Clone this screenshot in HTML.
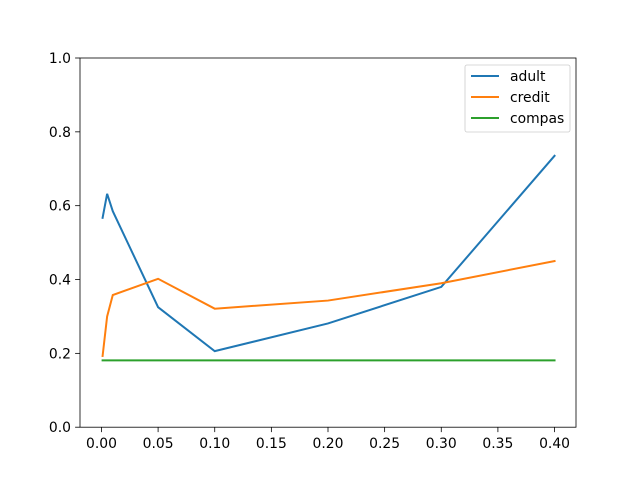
<!DOCTYPE html>
<html><head><meta charset="utf-8"><style>
body{margin:0;background:#fff;}
svg{display:block;font-family:"DejaVu Sans","Liberation Sans",sans-serif;}
</style></head><body>
<svg id="chart" width="640" height="480">
<rect width="640" height="480" fill="#fff"/>
<g id="plot"></g>
</svg>
<script>
const xValues=[0.001,0.005,0.01,0.05,0.1,0.2,0.3,0.4];
const adult=[0.567,0.632,0.585,0.325,0.206,0.281,0.38,0.735];
const credit=[0.193,0.3,0.358,0.402,0.321,0.343,0.39,0.45];
const compas=[0.181,0.181,0.181,0.181,0.181,0.181,0.181,0.181];
const xTicks=[0,0.05,0.1,0.15,0.2,0.25,0.3,0.35,0.4];
const xTickLabels=["0.00","0.05","0.10","0.15","0.20","0.25","0.30","0.35","0.40"];
const yTicks=[0,0.2,0.4,0.6,0.8,1.0];
const yTickLabels=["0.0","0.2","0.4","0.6","0.8","1.0"];
const seriesNames=["adult","credit","compas"];
const L=80,R=576,T=58,B=427.2;
const xmin=-0.01895,xmax=0.41895;
const sx=v=>L+(v-xmin)/(xmax-xmin)*(R-L);
const sy=v=>B-(v-0)/(1-0)*(B-T);
const ns="http://www.w3.org/2000/svg";
const g=document.getElementById('plot');
function mk(t,a,p){const e=document.createElementNS(ns,t);for(const k in a)e.setAttribute(k,a[k]);(p||g).appendChild(e);return e;}
const colors=["#1f77b4","#ff7f0e","#2ca02c"];
[adult,credit,compas].forEach((s,i)=>{
 const pts=s.map((v,j)=>sx(xValues[j]).toFixed(2)+","+sy(v).toFixed(2)).join(" ");
 const pl=mk('polyline',{points:pts,fill:'none',stroke:colors[i],'stroke-width':2,'stroke-linecap':'square'});
 
 
});
const frame=mk('rect',{x:L,y:T,width:R-L,height:B-T,fill:'none',stroke:'#000','stroke-width':0.8});


xTicks.forEach((v,i)=>{
 const x=sx(v);
 mk('line',{x1:x,x2:x,y1:B,y2:B+4.9,stroke:'#000','stroke-width':0.8});
 const t=mk('text',{x:x,y:B+21,'text-anchor':'middle','font-size':13.9});
 t.textContent=xTickLabels[i];
 
 
});
yTicks.forEach((v,i)=>{
 const y=sy(v);
 mk('line',{x1:L,x2:L-4.9,y1:y,y2:y,stroke:'#000','stroke-width':0.8});
 const t=mk('text',{x:L-9,y:y+5,'text-anchor':'end','font-size':13.9});
 t.textContent=yTickLabels[i];
 
 
});
const lg=mk('g',{});


mk('rect',{x:465,y:65,width:105,height:67,rx:2,fill:'#fff',stroke:'#ccc','stroke-width':0.8},lg);
seriesNames.forEach((n,i)=>{
 const y=76+i*21;
 mk('line',{x1:471,x2:499,y1:y,y2:y,stroke:colors[i],'stroke-width':2},lg);
 const t=mk('text',{x:510,y:y+5,'font-size':13.9},lg);
 t.textContent=n;
 
 
});
</script>
</body></html>
